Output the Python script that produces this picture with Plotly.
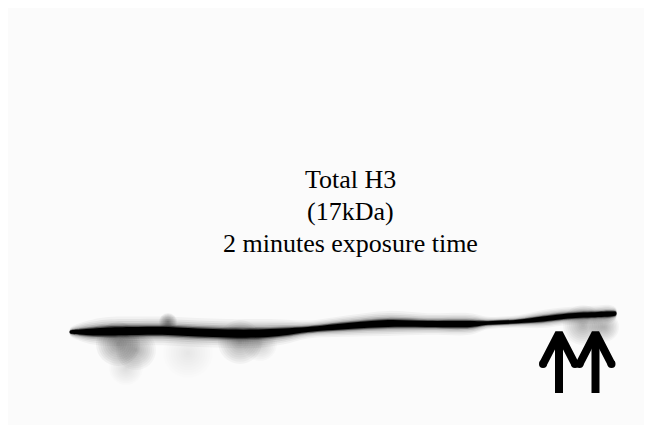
import plotly.graph_objects as go

W, H = 652, 425

# Band centre line (pixel coords) and local thickness
band_x = [62, 72, 85, 100, 130, 160, 190, 220, 250, 275, 300, 340, 380, 420, 462, 480, 510, 535, 560, 590, 602, 608]
band_y = [324, 324, 324, 323.5, 323, 323, 324.5, 325.5, 325.5, 324, 321.5, 318, 315.5, 316, 316, 315, 313.5, 311, 308, 306.5, 306, 305.5]
band_w = [2, 5, 7, 8, 8, 8, 8, 8, 8, 7, 5, 6, 7, 6, 6, 3.5, 3.5, 5, 5, 5, 5, 3]

# Smudges around the band: centre x, centre y, diameter, darkness
smear_x = [110, 128, 118, 160, 232, 252, 575, 596, 180]
smear_y = [336, 342, 360, 314, 334, 336, 317, 319, 345]
smear_d = [44, 40, 34, 18, 44, 34, 40, 30, 50]
smear_a = [0.45, 0.3, 0.12, 0.5, 0.35, 0.2, 0.3, 0.3, 0.08]

# Arrows: x of arrow, tip y, bottom y, half-width of head, head depth
arrow_x = [551, 587.5]
arrow_tip = [325, 325]
arrow_bottom = [385, 385]
head_half = [16, 16]
head_depth = [31, 31]

labels = ["Total H3", "(17kDa)", "2 minutes exposure time"]
label_y = [171, 203, 235]
label_x = 342.5

FONT = "'Liberation Serif', 'Times New Roman', Times, serif"

fig = go.Figure()

def band_polygon(scale):
    up = [y - w * scale / 2 for y, w in zip(band_y, band_w)]
    lo = [y + w * scale / 2 for y, w in zip(band_y, band_w)]
    xs = band_x + band_x[::-1] + [band_x[0]]
    ys = up + lo[::-1] + [up[0]]
    return xs, ys

# soft smudges first (beneath the band)
N = 10
for x, y, d, a in zip(smear_x, smear_y, smear_d, smear_a):
    for i in range(N):
        f = 1.0 - i / N
        fig.add_trace(go.Scatter(x=[x], y=[y], mode="markers",
                                 marker=dict(size=d * f, color=f"rgba(0,0,0,{a/N:.4f})", line=dict(width=0)),
                                 hoverinfo="skip", showlegend=False))

# blurred halo layers then core
for scale, op in [(3.6, 0.04), (3.0, 0.05), (2.5, 0.07), (2.0, 0.12), (1.6, 0.22), (1.3, 0.45), (1.0, 1.0)]:
    xs, ys = band_polygon(scale)
    fig.add_trace(go.Scatter(x=xs, y=ys, mode="lines", fill="toself",
                             fillcolor=f"rgba(0,0,0,{op})", line=dict(width=0, shape="spline"),
                             hoverinfo="skip", showlegend=False))

# arrows
for x, t, b, hh, hd in zip(arrow_x, arrow_tip, arrow_bottom, head_half, head_depth):
    fig.add_trace(go.Scatter(x=[x, x], y=[t + 2, b], mode="lines",
                             line=dict(color="black", width=8), hoverinfo="skip", showlegend=False))
    fig.add_trace(go.Scatter(x=[x - hh, x, x + hh], y=[t + hd, t, t + hd], mode="lines",
                             line=dict(color="black", width=8),
                             hoverinfo="skip", showlegend=False))
    fig.add_trace(go.Scatter(x=[x - hh, x + hh], y=[t + hd, t + hd], mode="markers",
                             marker=dict(size=8, color="black", line=dict(width=0)),
                             hoverinfo="skip", showlegend=False))

for txt, y in zip(labels, label_y):
    fig.add_annotation(x=label_x, y=y, text=txt, showarrow=False, xanchor="center", yanchor="middle",
                       font=dict(family=FONT, size=26, color="black"))

fig.update_layout(
    width=W, height=H, autosize=False,
    margin=dict(l=0, r=0, t=0, b=0),
    font=dict(family=FONT),
    paper_bgcolor="white", plot_bgcolor="#fbfbfb",
    xaxis=dict(range=[0, W], visible=False, fixedrange=True),
    yaxis=dict(range=[H, 0], visible=False, fixedrange=True),
)
fig.write_html("out.html")
